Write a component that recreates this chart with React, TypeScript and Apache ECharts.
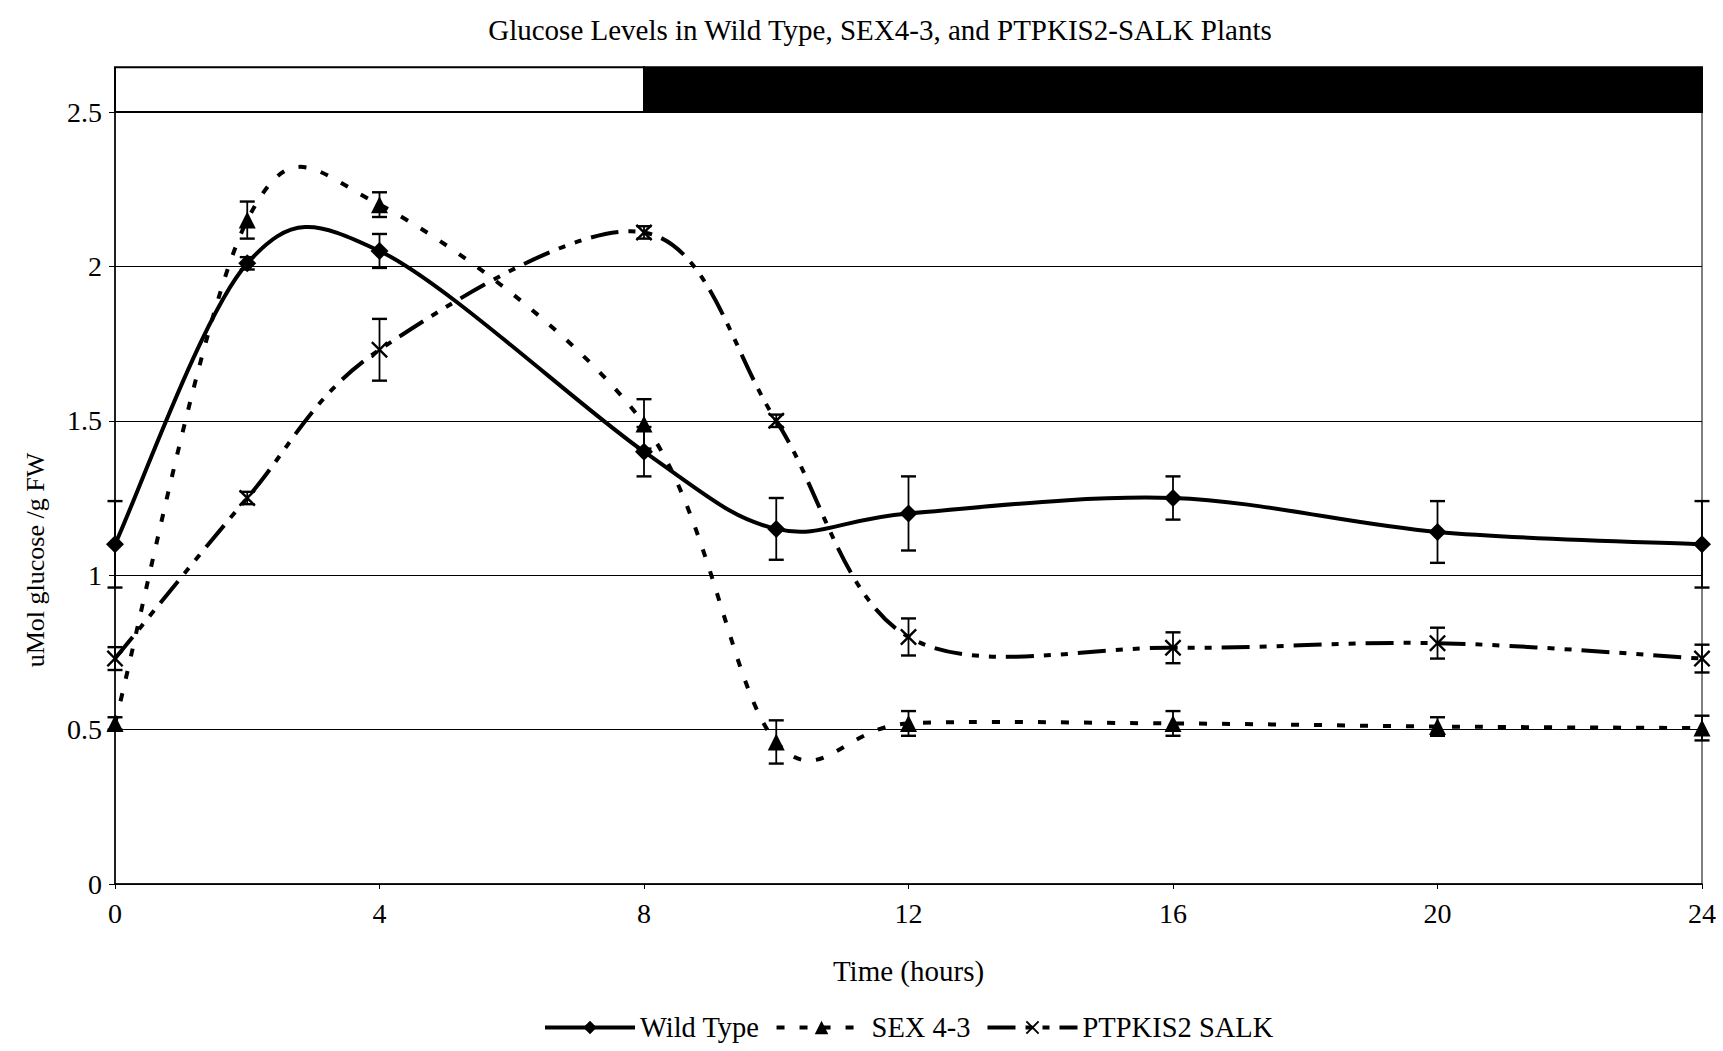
import React, { useEffect, useRef } from "react";
import * as echarts from "echarts";

// ---- data ----
const times = [0, 2, 4, 8, 10, 12, 16, 20, 24];
const wildType = [1.1, 2.01, 2.05, 1.4, 1.15, 1.2, 1.25, 1.14, 1.1];
const wildTypeErr = [0.14, 0.02, 0.055, 0.08, 0.1, 0.12, 0.07, 0.1, 0.14];
const sex43 = [0.52, 2.15, 2.2, 1.49, 0.46, 0.52, 0.52, 0.51, 0.505];
const sex43Err = [0.02, 0.06, 0.04, 0.08, 0.07, 0.04, 0.04, 0.03, 0.04];
const ptpkis2 = [0.73, 1.25, 1.73, 2.11, 1.5, 0.8, 0.765, 0.78, 0.73];
const ptpkis2Err = [0.037, 0.02, 0.1, 0.02, 0.02, 0.06, 0.05, 0.05, 0.045];
const lightPeriod = [[0, 8]];
const darkPeriod = [[8, 24]];
const xTicks = [0, 4, 8, 12, 16, 20, 24];
const seriesNames = ["Wild Type", "SEX 4-3", "PTPKIS2 SALK"];

const FONT = "Liberation Serif";
const X_SYMBOL =
  "path://M1,0 L5,4 L9,0 L10,1 L6,5 L10,9 L9,10 L5,6 L1,10 L0,9 L4,5 L0,1 Z";

const WT_LINE = { color: "#000", width: 4, type: "solid" as any, opacity: 1 };
const SEX_LINE = { color: "#000", width: 4, type: [8, 15] as any, opacity: 1 };
const PTP_LINE = { color: "#000", width: 4, type: [28, 10, 7, 10, 7, 10] as any, opacity: 1 };

// Excel-style smoothed curve (Catmull-Rom Bezier through the points)
const ExcelCurve = echarts.graphic.extendShape({
  shape: { pts: [] as number[][] },
  buildPath(ctx: any, shape: any) {
    const p = shape.pts as number[][];
    if (!p || p.length < 2) return;
    ctx.moveTo(p[0][0], p[0][1]);
    for (let i = 0; i < p.length - 1; i++) {
      const p0 = p[i - 1] || p[i];
      const p1 = p[i];
      const p2 = p[i + 1];
      const p3 = p[i + 2] || p[i + 1];
      const c1x = p1[0] + (p2[0] - p0[0]) / 6;
      const c1y = p1[1] + (p2[1] - p0[1]) / 6;
      const c2x = p2[0] - (p3[0] - p1[0]) / 6;
      const c2y = p2[1] - (p3[1] - p1[1]) / 6;
      ctx.bezierCurveTo(c1x, c1y, c2x, c2y, p2[0], p2[1]);
    }
  },
});
echarts.graphic.registerShape("excelCurve", ExcelCurve);

function curve(vals: number[], line: any) {
  return {
    type: "custom",
    silent: true,
    clip: false,
    z: 4,
    data: times.map((t, i) => [t, vals[i]]),
    encode: { x: 0, y: 1 },
    renderItem: (params: any, api: any) => {
      if (params.dataIndex !== 0) return { type: "group", children: [] };
      const pts = times.map((t, i) => api.coord([t, vals[i]]));
      return {
        type: "excelCurve",
        shape: { pts },
        style: {
          fill: "none",
          stroke: line.color,
          lineWidth: line.width,
          lineDash: Array.isArray(line.type) ? line.type : null,
          lineCap: "butt",
        },
      };
    },
  };
}

function errorBars(vals: number[], errs: number[]) {
  return {
    type: "custom",
    silent: true,
    clip: false,
    z: 3,
    data: times.map((t, i) => [t, vals[i] - errs[i], vals[i] + errs[i]]),
    encode: { x: 0, y: [1, 2] },
    renderItem: (params: any, api: any) => {
      const x = api.value(0);
      const lo = api.coord([x, api.value(1)]);
      const hi = api.coord([x, api.value(2)]);
      const w = 7.5;
      const cap = { stroke: "#000", lineWidth: 2.4 };
      return {
        type: "group",
        children: [
          { type: "line", shape: { x1: hi[0], y1: hi[1], x2: lo[0], y2: lo[1] }, style: { stroke: "#000", lineWidth: 1.8 } },
          { type: "line", shape: { x1: hi[0] - w, y1: hi[1], x2: hi[0] + w, y2: hi[1] }, style: cap },
          { type: "line", shape: { x1: lo[0] - w, y1: lo[1], x2: lo[0] + w, y2: lo[1] }, style: cap },
        ],
      };
    },
  };
}

function periodBar(data: number[][], fill: string) {
  return {
    type: "custom",
    silent: true,
    clip: false,
    z: 1,
    data,
    encode: { x: [0, 1] },
    renderItem: (params: any, api: any) => {
      const a = api.coord([api.value(0), 2.5]);
      const b = api.coord([api.value(1), 2.5]);
      const h = api.size([0, 0.145])[1];
      return {
        type: "rect",
        shape: { x: a[0], y: a[1] - h, width: b[0] - a[0], height: h },
        style: { fill, stroke: "#000", lineWidth: 2 },
      };
    },
  };
}

function markers(name: string, vals: number[], symbol: string, size: number) {
  return {
    name,
    type: "line",
    data: times.map((t, i) => [t, vals[i]]),
    symbol,
    symbolSize: size,
    itemStyle: { color: "#000" },
    lineStyle: { width: 0, opacity: 0 },
    z: 5,
  };
}

export default function App() {
  const ref = useRef<HTMLDivElement>(null);
  useEffect(() => {
    const chart = echarts.init(ref.current!, null, { renderer: "svg" });
    chart.setOption({
      animation: false,
      backgroundColor: "#fff",
      textStyle: { fontFamily: FONT, color: "#000" },
      title: {
        text: "Glucose Levels in Wild Type, SEX4-3, and PTPKIS2-SALK Plants",
        left: 875,
        textAlign: "center",
        top: 10,
        textStyle: { fontFamily: FONT, fontSize: 29, fontWeight: "normal", color: "#000" },
      },
      grid: {
        left: 115,
        right: 21,
        top: 112,
        bottom: 167,
        show: true,
        borderColor: "#000",
        borderWidth: 1,
      },
      xAxis: {
        type: "value",
        min: 0,
        max: 24,
        interval: 4,
        name: "Time (hours)",
        nameLocation: "middle",
        nameGap: 72,
        nameTextStyle: { fontFamily: FONT, fontSize: 29, color: "#000" },
        axisLine: { lineStyle: { color: "#000", width: 1.5 } },
        axisTick: { show: true, length: 5, lineStyle: { color: "#000" } },
        axisLabel: {
          fontFamily: FONT,
          fontSize: 28,
          color: "#000",
          margin: 15,
          formatter: (v: number) => (xTicks.includes(v) ? String(v) : ""),
        },
        splitLine: { show: false },
      },
      yAxis: {
        type: "value",
        min: 0,
        max: 2.5,
        interval: 0.5,
        axisLine: { show: true, lineStyle: { color: "#000", width: 1.5 } },
        axisTick: { show: true, length: 6, lineStyle: { color: "#000" } },
        axisLabel: { fontFamily: FONT, fontSize: 28, color: "#000", margin: 13 },
        splitLine: { show: true, lineStyle: { color: "#000", width: 1 } },
      },
      graphic: [
        {
          type: "text",
          x: 35,
          y: 560,
          rotation: Math.PI / 2,
          style: {
            text: "uMol glucose /g FW",
            font: `26px "${FONT}"`,
            fill: "#000",
            textAlign: "center",
            textVerticalAlign: "middle",
          },
        },
      ],
      legend: {
        data: [
          { name: seriesNames[0], lineStyle: WT_LINE },
          { name: seriesNames[1], lineStyle: SEX_LINE },
          { name: seriesNames[2], lineStyle: PTP_LINE },
        ],
        bottom: 4,
        left: 538,
        itemWidth: 90,
        itemHeight: 17,
        itemGap: 15,
        textStyle: { fontFamily: FONT, fontSize: 28.5, color: "#000" },
      },
      series: [
        periodBar(lightPeriod, "#fff"),
        periodBar(darkPeriod, "#000"),
        errorBars(wildType, wildTypeErr),
        errorBars(sex43, sex43Err),
        errorBars(ptpkis2, ptpkis2Err),
        curve(wildType, WT_LINE),
        curve(sex43, SEX_LINE),
        curve(ptpkis2, PTP_LINE),
        markers(seriesNames[0], wildType, "diamond", 18),
        markers(seriesNames[1], sex43, "triangle", 17),
        markers(seriesNames[2], ptpkis2, X_SYMBOL, 17),
      ],
    });
    return () => chart.dispose();
  }, []);
  return (
    <div
      ref={ref}
      style={{ position: "fixed", left: 0, top: 0, width: 1723, height: 1051 }}
    />
  );
}
